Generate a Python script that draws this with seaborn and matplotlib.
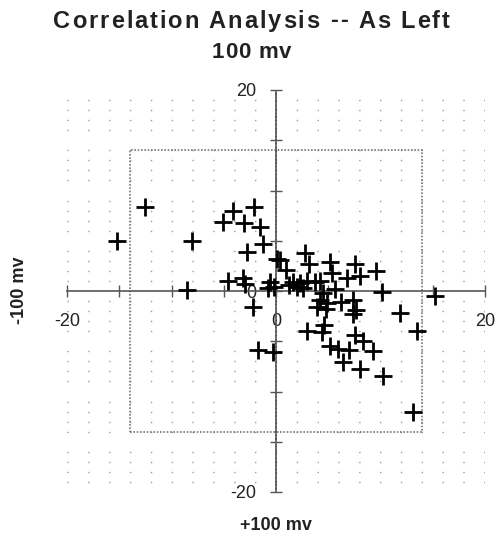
import numpy as np
import pandas as pd
import matplotlib
matplotlib.use("Agg")
import matplotlib.pyplot as plt
from matplotlib.ticker import FixedLocator, FuncFormatter, MultipleLocator
from matplotlib.patches import Rectangle
import seaborn as sns

# ---- data ----
plus_100mv = [-12.5, -15.2, -8.0, -8.5, -4.1, -2.1, -5.1, -3.1, -1.5, -1.2,
              -2.8, -4.6, -3.2, -3.0, -2.2, -1.7, -0.3, -0.6, 0.1, 0.4,
              1.0, 2.8, 3.2, 5.2, 5.4, 7.6, 8.0, 6.8, 9.6, 10.1,
              -0.2, 2.3, 3.0, 3.7, 4.2, 4.2, 3.9, 4.9, 4.6, 3.0,
              6.2, 7.4, 7.7, 7.4, 11.9, 13.5, 15.2, 4.4, 7.6, 8.3,
              9.3, 5.2, 5.9, 7.0, 6.4, 8.0, 10.2, 13.1, 1.2, 2.0,
              -0.8, 5.6, 4.5, 4.8, 2.6, 1.6]
minus_100mv = [8.4, 5.0, 5.0, 0.1, 8.0, 8.4, 6.9, 6.8, 6.4, 4.7,
               3.9, 1.0, 1.3, 0.7, -1.6, -5.9, -6.1, 0.9, 3.2, 3.1,
               2.1, 3.8, 2.7, 2.9, 1.8, 2.7, 1.5, 1.3, 2.0, -0.1,
               0.4, 0.8, 1.0, 0.9, 1.0, -0.9, -1.6, -1.2, -3.4, -4.0,
               -1.1, -0.9, -1.9, -2.3, -2.2, -4.0, -0.5, -4.1, -4.4, -5.0,
               -6.0, -5.5, -5.8, -5.9, -7.1, -7.8, -8.5, -12.0, 0.6, 0.4,
               0.3, 0.2, -0.2, -1.8, 0.3, 0.9]
axis_limit = 20
spec_limit = 14
title_lines = ["Correlation Analysis -- As Left", "100 mv"]
x_label = "+100 mv"
y_label = "-100 mv"
labeled_ticks = [-20, 0, 20]

df = pd.DataFrame({"plus": plus_100mv, "minus": minus_100mv})

sns.set_theme(style="white")
plt.rcParams["font.family"] = ["Liberation Sans", "DejaVu Sans"]

W, H = 503, 540
fig = plt.figure(figsize=(W / 100, H / 100), dpi=100)
ax = fig.add_axes([67 / W, (H - 492) / H, 418 / W, 402 / H])
ax.set_xlim(-axis_limit, axis_limit)
ax.set_ylim(-axis_limit, axis_limit)

# stippled background
ax.yaxis.set_minor_locator(MultipleLocator(1))
ax.grid(which="minor", axis="y", color="#9a9a9a", linewidth=1.0,
        linestyle=(0, (1, 14)))
ax.grid(which="major", visible=False)

# spec box
ax.add_patch(Rectangle((-spec_limit, -spec_limit), 2 * spec_limit, 2 * spec_limit,
                       fill=False, edgecolor="#777777", linewidth=1.2,
                       linestyle=(0, (1, 1)), zorder=2))

sns.scatterplot(data=df, x="plus", y="minus", marker="+", color="black",
                s=170, linewidth=2.0, ax=ax, zorder=4)

# axes crossing at origin
for side in ["top", "right"]:
    ax.spines[side].set_visible(False)
for side, ls in [("left", (0, (1.5, 0.8))), ("bottom", (0, (3, 1)))]:
    sp = ax.spines[side]
    sp.set_position("zero")
    sp.set_color("#555555")
    sp.set_linestyle(ls)
    sp.set_linewidth(1.2)
    sp.set_zorder(3)

ticks = list(range(-axis_limit, axis_limit + 1, 5))
fmt = FuncFormatter(lambda v, p: f"{int(v)}" if int(round(v)) in labeled_ticks else "")
ax.xaxis.set_major_locator(FixedLocator(ticks))
ax.yaxis.set_major_locator(FixedLocator(ticks))
ax.xaxis.set_major_formatter(fmt)
ax.yaxis.set_major_formatter(fmt)
ax.tick_params(axis="both", which="major", direction="inout", length=8, width=1,
               color="#555555", labelsize=13, labelcolor="#222222",
               bottom=True, left=True)
ax.tick_params(axis="x", pad=12)
ax.tick_params(axis="y", pad=10)
ax.tick_params(axis="both", which="minor", length=0)
ax.set_xlabel("")
ax.set_ylabel("")

# letter-spaced title text
renderer = fig.canvas.get_renderer()


def char_width(ch, size):
    if ch == " ":
        a = fig.text(0, 0, "a a", fontsize=size, fontweight="bold")
        b = fig.text(0, 0, "aa", fontsize=size, fontweight="bold")
        w = a.get_window_extent(renderer).width - b.get_window_extent(renderer).width
        a.remove(); b.remove()
        return w
    t = fig.text(0, 0, ch, fontsize=size, fontweight="bold")
    w = t.get_window_extent(renderer).width
    t.remove()
    return w


def tracked_text(s, cx_px, cy_px, size, tracking_px):
    widths = [char_width(c, size) for c in s]
    total = sum(widths) + tracking_px * (len(s) - 1)
    x = cx_px - total / 2
    for c, w in zip(s, widths):
        if c != " ":
            fig.text(x / W, 1 - cy_px / H, c, ha="left", va="center",
                     fontsize=size, fontweight="bold", color="#222222")
        x += w + tracking_px


tracked_text(title_lines[0], W / 2, 21, 17, 1.9)
tracked_text(title_lines[1], W / 2, 52, 16, 1.0)

fig.text(276 / W, 1 - 525 / H, x_label, ha="center", va="center",
         fontsize=13, fontweight="bold", color="#222222")
fig.text(20 / W, 1 - 290 / H, y_label, ha="center", va="center",
         rotation=90, fontsize=13, fontweight="bold", color="#222222")

fig.savefig("out.png", dpi=100)
